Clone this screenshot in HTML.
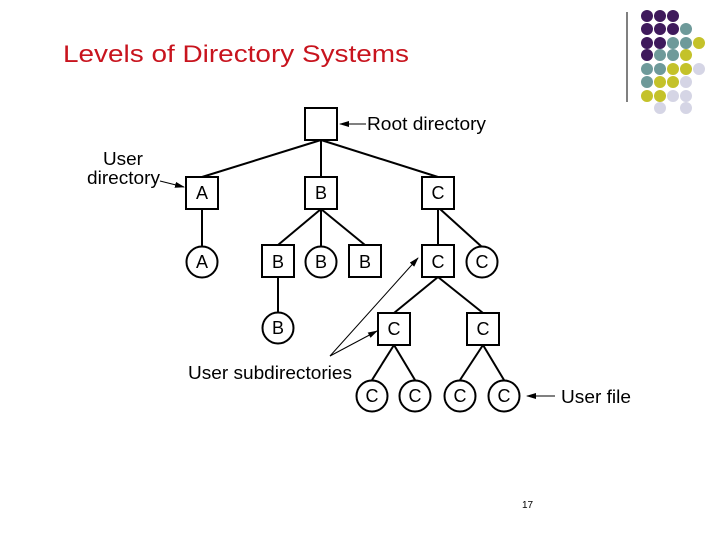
<!DOCTYPE html>
<html><head><style>html,body{margin:0;padding:0;background:#fff;width:720px;height:540px;overflow:hidden}</style></head>
<body>
<svg width="720" height="540" viewBox="0 0 720 540" xmlns="http://www.w3.org/2000/svg" font-family="Liberation Sans, sans-serif">
<defs><marker id="ah" markerWidth="10" markerHeight="6" refX="9" refY="3" orient="auto" markerUnits="userSpaceOnUse"><path d="M0,0 L10,3 L0,6 Z" fill="#000"/></marker></defs>
<text x="63" y="62" font-size="24" fill="#c8141e" textLength="346" lengthAdjust="spacingAndGlyphs">Levels of Directory Systems</text>
<line x1="627" y1="12" x2="627" y2="102" stroke="#000" stroke-width="1"/>
<g>
<circle cx="647" cy="16" r="6" fill="#3f1a5c"/><circle cx="660" cy="16" r="6" fill="#3f1a5c"/><circle cx="673" cy="16" r="6" fill="#3f1a5c"/>
<circle cx="647" cy="29" r="6" fill="#3f1a5c"/><circle cx="660" cy="29" r="6" fill="#3f1a5c"/><circle cx="673" cy="29" r="6" fill="#3f1a5c"/><circle cx="686" cy="29" r="6" fill="#6e9a9a"/>
<circle cx="647" cy="43" r="6" fill="#3f1a5c"/><circle cx="660" cy="43" r="6" fill="#3f1a5c"/><circle cx="673" cy="43" r="6" fill="#6e9a9a"/><circle cx="686" cy="43" r="6" fill="#6e9a9a"/><circle cx="699" cy="43" r="6" fill="#c4c22a"/>
<circle cx="647" cy="55" r="6" fill="#3f1a5c"/><circle cx="660" cy="55" r="6" fill="#6e9a9a"/><circle cx="673" cy="55" r="6" fill="#6e9a9a"/><circle cx="686" cy="55" r="6" fill="#c4c22a"/>
<circle cx="647" cy="69" r="6" fill="#6e9a9a"/><circle cx="660" cy="69" r="6" fill="#6e9a9a"/><circle cx="673" cy="69" r="6" fill="#c4c22a"/><circle cx="686" cy="69" r="6" fill="#c4c22a"/><circle cx="699" cy="69" r="6" fill="#d5d5e5"/>
<circle cx="647" cy="82" r="6" fill="#6e9a9a"/><circle cx="660" cy="82" r="6" fill="#c4c22a"/><circle cx="673" cy="82" r="6" fill="#c4c22a"/><circle cx="686" cy="82" r="6" fill="#d5d5e5"/>
<circle cx="647" cy="96" r="6" fill="#c4c22a"/><circle cx="660" cy="96" r="6" fill="#c4c22a"/><circle cx="673" cy="96" r="6" fill="#d5d5e5"/><circle cx="686" cy="96" r="6" fill="#d5d5e5"/>
<circle cx="660" cy="108" r="6" fill="#d5d5e5"/><circle cx="686" cy="108" r="6" fill="#d5d5e5"/>
</g>
<g stroke="#000" stroke-width="2" fill="none">
<line x1="321" y1="140" x2="202" y2="177"/><line x1="321" y1="140" x2="321" y2="177"/><line x1="321" y1="140" x2="438" y2="177"/>
<line x1="202" y1="209" x2="202" y2="246"/>
<line x1="321" y1="209" x2="278" y2="245"/><line x1="321" y1="209" x2="321" y2="246"/><line x1="321" y1="209" x2="365" y2="245"/>
<line x1="438" y1="209" x2="438" y2="245"/><line x1="440" y1="209" x2="482" y2="247"/>
<line x1="278" y1="277" x2="278" y2="312"/>
<line x1="438" y1="277" x2="394" y2="313"/><line x1="438" y1="277" x2="483" y2="313"/>
<line x1="394" y1="345" x2="372" y2="380"/><line x1="394" y1="345" x2="415" y2="380"/>
<line x1="483" y1="345" x2="460" y2="380"/><line x1="483" y1="345" x2="504" y2="380"/>
<rect x="305" y="108" width="32" height="32" fill="#fff"/>
<rect x="186" y="177" width="32" height="32" fill="#fff"/><rect x="305" y="177" width="32" height="32" fill="#fff"/><rect x="422" y="177" width="32" height="32" fill="#fff"/>
<circle cx="202" cy="262" r="15.5" fill="#fff"/><rect x="262" y="245" width="32" height="32" fill="#fff"/><circle cx="321" cy="262" r="15.5" fill="#fff"/><rect x="349" y="245" width="32" height="32" fill="#fff"/>
<rect x="422" y="245" width="32" height="32" fill="#fff"/><circle cx="482" cy="262" r="15.5" fill="#fff"/>
<circle cx="278" cy="328" r="15.5" fill="#fff"/>
<rect x="378" y="313" width="32" height="32" fill="#fff"/><rect x="467" y="313" width="32" height="32" fill="#fff"/>
<circle cx="372" cy="396" r="15.5" fill="#fff"/><circle cx="415" cy="396" r="15.5" fill="#fff"/><circle cx="460" cy="396" r="15.5" fill="#fff"/><circle cx="504" cy="396" r="15.5" fill="#fff"/>
</g>
<g stroke="#000" stroke-width="1" fill="none" marker-end="url(#ah)">
<line x1="366" y1="124" x2="340" y2="124"/>
<line x1="160" y1="181" x2="184" y2="187"/>
<line x1="555" y1="396" x2="527" y2="396"/>
<line x1="330" y1="356" x2="418" y2="258"/>
<line x1="330" y1="356" x2="377" y2="331"/>
</g>
<g font-size="18" text-anchor="middle" fill="#000">
<text x="202" y="199">A</text><text x="321" y="199">B</text><text x="438" y="199">C</text>
<text x="202" y="268">A</text><text x="278" y="268">B</text><text x="321" y="268">B</text><text x="365" y="268">B</text><text x="438" y="268">C</text><text x="482" y="268">C</text>
<text x="278" y="334">B</text><text x="394" y="335">C</text><text x="483" y="335">C</text>
<text x="372" y="402">C</text><text x="415" y="402">C</text><text x="460" y="402">C</text><text x="504" y="402">C</text>
</g>
<g font-size="18" fill="#000" lengthAdjust="spacingAndGlyphs">
<text x="367" y="130" textLength="119" lengthAdjust="spacingAndGlyphs">Root directory</text>
<text x="103" y="165" textLength="40" lengthAdjust="spacingAndGlyphs">User</text>
<text x="87" y="184" textLength="73" lengthAdjust="spacingAndGlyphs">directory</text>
<text x="188" y="379" textLength="164" lengthAdjust="spacingAndGlyphs">User subdirectories</text>
<text x="561" y="403" textLength="70" lengthAdjust="spacingAndGlyphs">User file</text>
</g>
<text x="522" y="508" font-size="10" fill="#000">17</text>
</svg>
</body></html>
